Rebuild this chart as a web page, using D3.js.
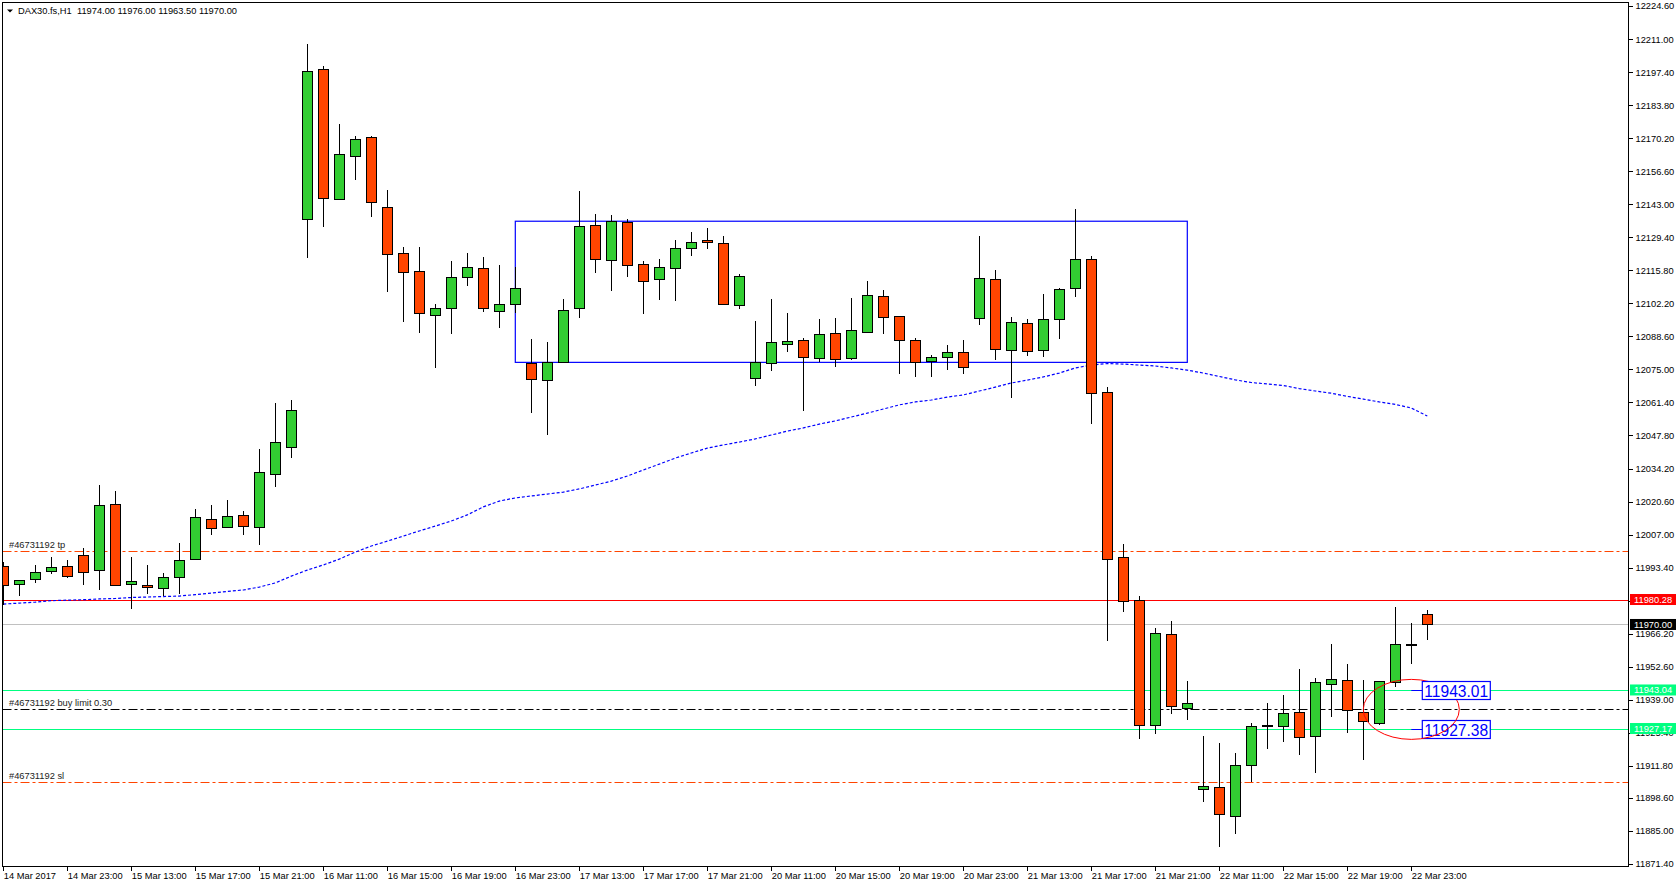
<!DOCTYPE html>
<html>
<head>
<meta charset="utf-8">
<script src="https://cdn.jsdelivr.net/npm/d3@7"></script>
<style>
  html, body { margin: 0; padding: 0; background: #fff; }
  svg { display: block; font-family: "Liberation Sans", Arial, sans-serif; }
  .axis text { font-size: 9.3px; fill: #000; }
  .axis line { stroke: #000; }
  .axis path { display: none; }
</style>
</head>
<body>
<div id="chart"></div>
<script>
// DAX30.fs H1 candles, 90 bars
const open = [
  11994.0, 11986.5, 11988.6, 11991.9, 11993.9, 11998.5, 11992.3, 12019.5, 11986.5, 11986.1,
  11984.9, 11989.4, 11996.8, 12013.3, 12010.0, 12014.9, 12010.0, 12031.8, 12042.9, 12136.8,
  12198.5, 12145.0, 12162.7, 12170.5, 12141.7, 12122.8, 12115.4, 12097.3, 12100.2, 12112.9,
  12116.6, 12098.9, 12101.8, 12077.6, 12070.5, 12077.9, 12100.2, 12134.3, 12119.9, 12135.6,
  12118.3, 12112.1, 12116.6, 12124.9, 12128.1, 12126.9, 12101.4, 12071.3, 12077.5, 12085.3,
  12087.0, 12079.6, 12089.9, 12079.6, 12090.3, 12105.1, 12096.9, 12087.0, 12078.3, 12080.0,
  12082.0, 12096.0, 12112.1, 12082.9, 12094.0, 12082.9, 12095.6, 12108.4, 12120.3, 12065.6,
  11997.6, 11979.9, 11928.5, 11965.9, 11935.5, 11902.1, 11903.0, 11891.0, 11912.0, 11928.3,
  11928.1, 11933.8, 11923.9, 11945.4, 11947.0, 11933.8, 11929.3, 11946.2, 11961.8, 11974.0
];
const high = [
  11995.7, 11988.5, 11994.5, 11997.8, 11996.4, 12001.3, 12027.3, 12024.8, 11997.8, 11994.5,
  11991.2, 12003.5, 12017.4, 12019.0, 12021.1, 12016.6, 12042.1, 12061.0, 12062.3, 12209.0,
  12199.9, 12176.0, 12171.1, 12171.1, 12148.9, 12125.4, 12125.4, 12101.9, 12119.6, 12122.9,
  12121.1, 12118.0, 12117.0, 12087.4, 12086.2, 12104.0, 12148.3, 12138.9, 12138.4, 12136.8,
  12119.5, 12120.3, 12128.1, 12131.4, 12133.1, 12129.8, 12114.1, 12094.8, 12104.0, 12098.2,
  12087.8, 12095.7, 12096.2, 12104.4, 12111.4, 12107.7, 12097.1, 12087.8, 12080.8, 12084.9,
  12087.0, 12129.9, 12115.8, 12096.4, 12095.6, 12106.0, 12108.4, 12141.0, 12121.6, 12067.8,
  12003.0, 11981.7, 11968.4, 11971.3, 11946.7, 11924.2, 11921.2, 11916.9, 11929.3, 11937.5,
  11940.8, 11951.5, 11947.8, 11961.8, 11953.6, 11947.0, 11946.8, 11977.2, 11970.5, 11976.0
];
const low = [
  11978.0, 11981.8, 11987.0, 11990.9, 11989.2, 11986.4, 11984.3, 11985.8, 11976.5, 11982.6,
  11981.7, 11982.6, 11996.4, 12006.9, 12009.8, 12006.9, 12002.8, 12026.5, 12038.6, 12121.0,
  12133.7, 12144.8, 12153.1, 12137.9, 12107.0, 12094.6, 12090.1, 12075.7, 12089.7, 12109.5,
  12098.8, 12092.2, 12098.1, 12057.2, 12048.1, 12077.7, 12096.3, 12114.8, 12107.4, 12113.2,
  12097.9, 12103.7, 12103.3, 12121.8, 12124.7, 12101.6, 12100.0, 12068.3, 12074.5, 12082.3,
  12058.0, 12077.9, 12076.1, 12078.9, 12090.1, 12089.7, 12073.2, 12072.0, 12072.0, 12074.9,
  12073.2, 12093.4, 12079.0, 12063.3, 12080.6, 12080.2, 12087.6, 12104.9, 12052.6, 11963.3,
  11975.2, 11923.0, 11925.0, 11933.2, 11930.8, 11897.0, 11878.5, 11883.8, 11905.0, 11918.8,
  11921.7, 11916.4, 11909.0, 11932.0, 11925.4, 11914.3, 11928.7, 11944.4, 11953.6, 11963.5
];
const close = [
  11986.2, 11988.3, 11991.5, 11993.5, 11989.8, 11991.5, 12019.0, 11986.1, 11987.5, 11985.3,
  11989.4, 11996.4, 12014.1, 12009.6, 12014.5, 12010.4, 12032.6, 12045.0, 12058.2, 12197.7,
  12145.4, 12163.5, 12169.7, 12143.8, 12122.4, 12115.0, 12098.1, 12100.2, 12112.9, 12117.0,
  12100.2, 12101.8, 12108.4, 12070.9, 12077.9, 12099.3, 12133.9, 12120.3, 12136.0, 12117.9,
  12111.3, 12117.0, 12124.9, 12127.3, 12127.3, 12101.8, 12113.3, 12077.9, 12086.2, 12086.6,
  12080.0, 12089.4, 12079.2, 12091.1, 12105.5, 12096.4, 12087.0, 12077.9, 12080.0, 12082.0,
  12075.9, 12112.5, 12083.3, 12094.4, 12082.4, 12095.6, 12108.0, 12120.3, 12065.2, 11996.8,
  11979.5, 11928.5, 11966.3, 11936.3, 11937.5, 11903.4, 11891.8, 11912.0, 11928.1, 11928.3,
  11933.4, 11923.5, 11946.2, 11947.4, 11934.6, 11930.1, 11946.6, 11961.8, 11961.8, 11970.0
];
// moving average (blue dotted)
const movingAvg = [
  11978.4, 11978.8, 11979.2, 11979.8, 11980.0, 11980.2, 11980.5, 11980.7, 11981.1, 11981.3,
  11981.5, 11981.7, 11982.3, 11982.9, 11983.6, 11984.2, 11985.4, 11987.1, 11989.9, 11992.4,
  11994.5, 11996.9, 11999.8, 12002.3, 12004.3, 12006.4, 12008.5, 12010.5, 12012.6, 12015.1,
  12018.4, 12020.8, 12022.1, 12022.9, 12023.7, 12024.5, 12025.8, 12027.4, 12029.0, 12031.1,
  12033.6, 12036.0, 12038.5, 12040.6, 12042.6, 12043.9, 12045.1, 12046.4, 12048.0, 12049.6,
  12050.9, 12052.5, 12053.8, 12055.4, 12057.0, 12058.7, 12060.4, 12061.6, 12062.4, 12063.6,
  12064.5, 12066.1, 12067.7, 12069.4, 12070.6, 12071.9, 12073.5, 12075.6, 12076.8, 12077.4,
  12077.2, 12076.8, 12076.4, 12075.6, 12074.7, 12073.5, 12072.1, 12070.7, 12069.6, 12069.0,
  12068.4, 12067.1, 12066.1, 12065.2, 12063.9, 12062.8, 12061.6, 12060.6, 12059.1, 12055.8
];

const priceTicks = [
  12224.6, 12211.0, 12197.4, 12183.8, 12170.2, 12156.6, 12143.0, 12129.4, 12115.8, 12102.2,
  12088.6, 12075.0, 12061.4, 12047.8, 12034.2, 12020.6, 12007.0, 11993.4, 11979.8, 11966.2,
  11952.6, 11939.0, 11925.4, 11911.8, 11898.6, 11885.0, 11871.4
];
const timeLabels = [
  "14 Mar 2017", "14 Mar 23:00", "15 Mar 13:00", "15 Mar 17:00", "15 Mar 21:00", "16 Mar 11:00",
  "16 Mar 15:00", "16 Mar 19:00", "16 Mar 23:00", "17 Mar 13:00", "17 Mar 17:00", "17 Mar 21:00",
  "20 Mar 11:00", "20 Mar 15:00", "20 Mar 19:00", "20 Mar 23:00", "21 Mar 13:00", "21 Mar 17:00",
  "21 Mar 21:00", "22 Mar 11:00", "22 Mar 15:00", "22 Mar 19:00", "22 Mar 23:00"
];
const timeTickIndex = timeLabels.map((d, i) => i * 4);

// order levels (dash-dot) and price lines
const orderNames = ["#46731192 tp", "#46731192 buy limit 0.30", "#46731192 sl"];
const orderPrices = [12000.1, 11935.2, 11905.0];
const lineNames = ["bid", "close", "upper", "lower"];
const linePrices = [11980.28, 11970.00, 11943.04, 11927.17];
// drawn objects
const rangeBox = [32, 74, 12077.9, 12136.0];      // from bar, to bar, low, high
const ellipseBox = [85, 91, 11922.7, 11947.4];    // from bar, to bar, low, high
const tagBar = 88;
const tagPrices = [11943.04, 11927.17];
const tagTexts = ["11943.01", "11927.38"];

// ---------- drawing ----------
const W = 1676, H = 888;
const plot = { left: 2.5, top: 2.5, right: 1628.5, bottom: 866.5 };

const svg = d3.select("#chart").append("svg").attr("width", W).attr("height", H);

const x = d3.scaleLinear().domain([0, 101.5]).range([3.3, 1627.3]);
const y = d3.scaleLinear().domain([11871.4, 12224.6]).range([864, 6]);

svg.append("defs").append("clipPath").attr("id", "plotClip")
  .append("rect")
  .attr("x", plot.left).attr("y", plot.top)
  .attr("width", plot.right - plot.left).attr("height", plot.bottom - plot.top);

const chart = svg.append("g").attr("clip-path", "url(#plotClip)");

const lineStyle = {
  bid: { stroke: "#ff0000" },
  close: { stroke: "#c0c0c0" },
  upper: { stroke: "#00ff80" },
  lower: { stroke: "#00ff80" },
};
const orderColor = ["#ff4500", "#000000", "#ff4500"];

// price lines
chart.selectAll(".price-line").data(linePrices).enter().append("line")
  .attr("class", "price-line")
  .attr("x1", plot.left).attr("x2", plot.right)
  .attr("y1", (d) => Math.round(y(d)) + 0.5).attr("y2", (d) => Math.round(y(d)) + 0.5)
  .attr("stroke", (d, i) => lineStyle[lineNames[i]].stroke)
  .attr("stroke-width", 1);

// order levels
chart.selectAll(".order-line").data(orderPrices).enter().append("line")
  .attr("class", "order-line")
  .attr("x1", plot.left).attr("x2", plot.right)
  .attr("y1", (d) => Math.round(y(d)) + 0.5).attr("y2", (d) => Math.round(y(d)) + 0.5)
  .attr("stroke", (d, i) => orderColor[i])
  .attr("stroke-width", 1)
  .attr("stroke-dasharray", "9,3,3,3");

chart.selectAll(".order-label").data(orderPrices).enter().append("text")
  .attr("class", "order-label")
  .attr("x", 9)
  .attr("y", (d) => y(d) - 3)
  .attr("font-size", "9.3px")
  .attr("fill", "#222")
  .text((d, i) => orderNames[i]);

// range rectangle
chart.append("rect")
  .attr("x", x(rangeBox[0])).attr("y", y(rangeBox[3]))
  .attr("width", x(rangeBox[1]) - x(rangeBox[0]))
  .attr("height", y(rangeBox[2]) - y(rangeBox[3]))
  .attr("fill", "none").attr("stroke", "#0000ff").attr("stroke-width", 1.2);

// moving average
const maLine = d3.line().x((d, i) => x(i)).y((d) => y(d));
chart.append("path")
  .datum(movingAvg)
  .attr("d", maLine)
  .attr("fill", "none")
  .attr("stroke", "#0000ff")
  .attr("stroke-width", 1.2)
  .attr("stroke-dasharray", "3,2");

// candles
const bars = d3.range(open.length);
const candle = chart.selectAll(".candle").data(bars).enter().append("g").attr("class", "candle")
  .attr("shape-rendering", "crispEdges");

candle.append("line")
  .attr("x1", (i) => Math.round(x(i)) + 0.5).attr("x2", (i) => Math.round(x(i)) + 0.5)
  .attr("y1", (i) => y(high[i])).attr("y2", (i) => y(low[i]))
  .attr("stroke", "#000").attr("stroke-width", 1);

candle.append("rect")
  .attr("x", (i) => Math.round(x(i)) - 4.5)
  .attr("width", 10)
  .attr("y", (i) => y(Math.max(open[i], close[i])))
  .attr("height", (i) => Math.max(Math.abs(y(open[i]) - y(close[i])), 1))
  .attr("fill", (i) => (close[i] >= open[i] ? "#32cd32" : "#ff4500"))
  .attr("stroke", "#000").attr("stroke-width", 1);

// tags and ellipse
const tagG = chart.append("g");
function drawTag(k) {
  const ty = Math.round(y(tagPrices[k])) + 0.5;
  const tx = x(tagBar);
  tagG.append("line")
    .attr("x1", tx).attr("x2", tx + 11).attr("y1", ty).attr("y2", ty)
    .attr("stroke", "#0000ff");
  tagG.append("rect")
    .attr("x", tx + 11).attr("y", ty - 9)
    .attr("width", 68).attr("height", 18)
    .attr("fill", "#fff").attr("stroke", "#0000ff").attr("stroke-width", 1.2);
  tagG.append("text")
    .attr("x", tx + 13).attr("y", ty + 6.5)
    .attr("font-size", "15.6px").attr("fill", "#0000ff")
    .text(tagTexts[k]);
}
drawTag(1);
tagG.append("ellipse")
  .attr("cx", (x(ellipseBox[0]) + x(ellipseBox[1])) / 2)
  .attr("cy", (y(ellipseBox[2]) + y(ellipseBox[3])) / 2)
  .attr("rx", (x(ellipseBox[1]) - x(ellipseBox[0])) / 2)
  .attr("ry", (y(ellipseBox[2]) - y(ellipseBox[3])) / 2)
  .attr("fill", "none").attr("stroke", "#ff0000").attr("stroke-width", 1);
drawTag(0);

// frame
svg.append("rect")
  .attr("x", plot.left).attr("y", plot.top)
  .attr("width", plot.right - plot.left).attr("height", plot.bottom - plot.top)
  .attr("fill", "none").attr("stroke", "#000").attr("stroke-width", 1)
  .attr("shape-rendering", "crispEdges");

// price axis
svg.append("g")
  .attr("class", "axis")
  .attr("transform", `translate(${plot.right},0)`)
  .call(d3.axisRight(y).tickValues(priceTicks).tickSize(4).tickPadding(3).tickFormat((d) => d.toFixed(2)))
  .call((g) => g.selectAll(".tick line").attr("shape-rendering", "crispEdges"));

// time axis
svg.append("g")
  .attr("class", "axis")
  .attr("transform", `translate(0,${plot.bottom})`)
  .call(d3.axisBottom(x).tickValues(timeTickIndex).tickSize(4).tickFormat((d, i) => timeLabels[i]))
  .call((g) => g.selectAll(".tick line").attr("shape-rendering", "crispEdges"))
  .call((g) => g.selectAll(".tick text").attr("text-anchor", "start").attr("x", 0).attr("y", 6));

// price tags on the axis
const tagFill = { bid: "#ff0000", close: "#000000", upper: "#00ff80", lower: "#00ff80" };
const axisTags = svg.append("g");
linePrices.forEach((p, i) => {
  const ty = y(p);
  axisTags.append("rect")
    .attr("x", plot.right + 1.5).attr("y", ty - 5.5)
    .attr("width", W - plot.right).attr("height", 11)
    .attr("fill", tagFill[lineNames[i]]);
  axisTags.append("text")
    .attr("x", plot.right + 5.5).attr("y", ty + 3.4)
    .attr("font-size", "9.3px").attr("fill", "#fff")
    .text(p.toFixed(2));
});

// header
svg.append("path")
  .attr("d", "M7,9.5 L13,9.5 L10,12.5 Z")
  .attr("fill", "#000");
const last = open.length - 1;
svg.append("text")
  .attr("x", 18).attr("y", 14)
  .attr("font-size", "9.3px").attr("fill", "#000")
  .attr("xml:space", "preserve")
  .text(`DAX30.fs,H1  ${open[last].toFixed(2)} ${high[last].toFixed(2)} ${low[last].toFixed(2)} ${close[last].toFixed(2)}`);
</script>
</body>
</html>
